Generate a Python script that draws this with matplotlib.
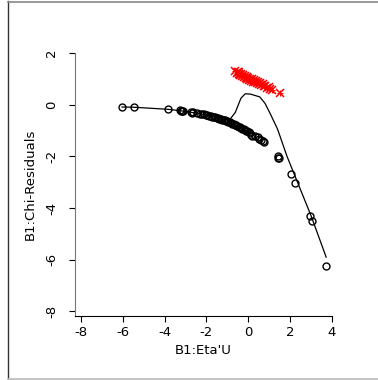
import matplotlib
matplotlib.use("Agg")
import matplotlib.pyplot as plt
from matplotlib.lines import Line2D

# observed residuals (black circles)
obs_x = [-6.03, -5.45, -3.83, -3.28, -3.22, -3.15, -3.10, -2.75, -2.70, -2.65,
         -2.45, -2.30, -2.20, -2.10, -2.02, -1.95, -1.88, -1.80, -1.72, -1.65,
         -1.58, -1.50, -1.45, -1.38, -1.32, -1.25, -1.18, -1.12, -1.05, -1.00,
         -0.95, -0.88, -0.82, -0.76, -0.70, -0.64, -0.58, -0.52, -0.46, -0.40,
         -0.34, -0.28, -0.22, -0.16, -0.10, -0.05, 0.02, 0.08, 0.15, 0.20,
         0.30, 0.45, 0.52, 0.60, 0.68, 0.75, 1.40, 1.43, 1.46, 2.02,
         2.25, 2.97, 3.05, 3.72]
obs_y = [-0.09, -0.09, -0.18, -0.22, -0.24, -0.25, -0.26, -0.29, -0.31, -0.30,
         -0.33, -0.35, -0.36, -0.38, -0.40, -0.41, -0.43, -0.44, -0.46, -0.48,
         -0.49, -0.51, -0.53, -0.54, -0.56, -0.58, -0.60, -0.61, -0.63, -0.65,
         -0.66, -0.68, -0.70, -0.73, -0.75, -0.78, -0.80, -0.83, -0.85, -0.88,
         -0.90, -0.93, -0.95, -0.98, -1.00, -1.03, -1.07, -1.10, -1.17, -1.22,
         -1.20, -1.27, -1.32, -1.38, -1.42, -1.46, -2.00, -2.05, -2.08, -2.70,
         -3.05, -4.32, -4.50, -6.25]

# smoothed curve
fit_x = [-6.03, -5.45, -3.83, -3.2, -2.7, -2.2, -1.6, -1.1, -0.86, -0.62, -0.35,
         -0.15, 0.1, 0.55, 0.8, 1.05, 1.4, 1.85, 2.3, 3.0, 3.72]
fit_y = [-0.09, -0.10, -0.18, -0.24, -0.30, -0.37, -0.45, -0.52, -0.55, -0.30, 0.25,
         0.42, 0.41, 0.30, 0.05, -0.35, -0.95, -2.0, -2.9, -4.3, -5.9]

# red points
red_x = [-0.62, -0.55, -0.50, -0.45, -0.42, -0.38, -0.33, -0.30, -0.25, -0.22,
         -0.18, -0.12, -0.08, -0.05, 0.00, 0.05, 0.08, 0.12, 0.18, 0.22,
         0.26, 0.30, 0.35, 0.40, 0.45, 0.50, 0.55, 0.62, 0.68, 0.75,
         0.82, 0.90, 0.98, 1.05, 1.15, 1.50]
red_y = [1.30, 1.22, 1.28, 1.18, 1.25, 1.14, 1.20, 1.10, 1.16, 1.06,
         1.12, 1.02, 1.09, 0.98, 1.04, 0.95, 1.01, 0.92, 0.98, 0.88,
         0.95, 0.86, 0.91, 0.82, 0.88, 0.79, 0.84, 0.76, 0.80, 0.72,
         0.74, 0.66, 0.68, 0.62, 0.55, 0.45]

xticks = [-8, -6, -4, -2, 0, 2, 4]
yticks = [-8, -6, -4, -2, 0, 2]

fig = plt.figure(figsize=(3.78, 3.80), dpi=100)
ax = fig.add_axes([75 / 378, 64 / 380, 257 / 378, 263 / 380])

ax.plot(fit_x, fit_y, color="black", lw=0.9)
ax.plot(obs_x, obs_y, "o", mfc="none", mec="black", ms=5, mew=1.0)
ax.plot(red_x, red_y, "x", color="red", ms=6, mew=1.1)
ax.plot(red_x, red_y, "+", color="red", ms=5, mew=0.7)

ax.set_xlim(-8.28, 4)
ax.set_ylim(-8.18, 2)
ax.set_xticks(xticks)
ax.set_yticks(yticks)
ax.set_xticklabels([str(t) for t in xticks])
ax.set_yticklabels([str(t) for t in yticks], rotation=90, va="center")
ax.spines["top"].set_visible(False)
ax.spines["right"].set_visible(False)
ax.spines["left"].set_color("#777777")
ax.spines["left"].set_bounds(-8.18, 2)
ax.tick_params(labelsize=9.5, length=4, width=0.8)
ax.tick_params(axis="y", pad=8)
ax.set_xlabel("B1:Eta'U", fontsize=9.5, labelpad=3)
ax.set_ylabel("B1:Chi-Residuals", fontsize=9.5, labelpad=6)

# frame around the figure
fig.add_artist(Line2D([8 / 378, 8 / 378], [0, 1 - 1 / 380], color="#333333", lw=1.0))
fig.add_artist(Line2D([8 / 378, 1], [1 - 1.5 / 380, 1 - 1.5 / 380], color="#888888", lw=1.2))
fig.add_artist(Line2D([8 / 378, 1], [1.5 / 380, 1.5 / 380], color="#bbbbbb", lw=1.2))

fig.savefig("out.png", dpi=100)
